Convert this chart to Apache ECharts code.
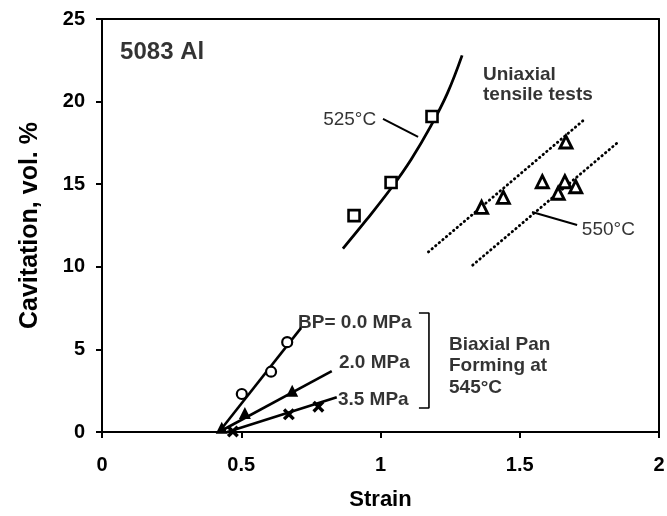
<!DOCTYPE html>
<html><head><meta charset="utf-8">
<script src="https://cdn.jsdelivr.net/npm/echarts@6/dist/echarts.min.js"></script>
<style>html,body{margin:0;padding:0;background:#fff}#c{width:667px;height:516px}</style>
</head><body><div id="c"></div>
<script>
// ---- data ----
const xTickLabels = ['0', '0.5', '1', '1.5', '2'];
const yTickLabels = ['0', '5', '10', '15', '20', '25'];

const curve525 = [[0.865, 11.1], [0.95, 12.85], [1.04, 14.8], [1.11, 16.5], [1.18, 18.5], [1.24, 20.5], [1.293, 22.8]];
const squares525 = [[0.905, 13.1], [1.038, 15.1], [1.185, 19.1]];

const triangles550 = [[1.363, 13.6], [1.441, 14.2], [1.581, 15.15], [1.638, 14.45], [1.662, 15.15], [1.701, 14.85], [1.666, 17.55]];
const dotted550Upper = [[1.172, 10.9], [1.738, 19.0]];
const dotted550Lower = [[1.331, 10.1], [1.850, 17.5]];

const bp00Line = [[0.42, 0], [0.715, 6.3]];
const bp00Points = [[0.502, 2.3], [0.607, 3.65], [0.665, 5.44]];
const bp20Line = [[0.42, 0], [0.825, 3.69]];
const bp20Points = [[0.43, 0.25], [0.513, 1.15], [0.683, 2.5]];
const bp35Line = [[0.45, 0], [0.843, 2.1]];
const bp35Points = [[0.47, 0.03], [0.671, 1.07], [0.777, 1.53]];

// annotations (data coordinates)
const leader525 = [[1.009, 18.95], [1.135, 17.86]];
const leader550 = [[1.706, 12.53], [1.544, 13.32]];
const bracketBP = [[1.138, 7.2], [1.174, 7.2], [1.174, 1.45], [1.138, 1.45]];
const noteTexts = ['5083 Al', '525°C', 'Uniaxial\ntensile tests', '550°C', 'BP= 0.0 MPa', '2.0 MPa', '3.5 MPa', 'Biaxial Pan\nForming at\n545°C'];
const noteAnchors = [[0.065, 23.0], [0.794, 18.89], [1.368, 21.0], [1.723, 12.23], [0.704, 6.6], [0.851, 4.18], [0.847, 1.94], [1.246, 4.0]];

// ---- styles ----
const FONT = 'Liberation Sans';
const BLACK = '#000';
const noteStyles = [
  {fontSize: 24, fontWeight: 'bold'},
  {fontSize: 19, fontWeight: 'normal'},
  {fontSize: 19, fontWeight: 'bold', lineHeight: 20},
  {fontSize: 19, fontWeight: 'normal'},
  {fontSize: 19, fontWeight: 'bold'},
  {fontSize: 19, fontWeight: 'bold'},
  {fontSize: 19, fontWeight: 'bold'},
  {fontSize: 19, fontWeight: 'bold', lineHeight: 21.5}
];

function lineSeries(data, extra) {
  return Object.assign({
    type: 'line', data: data, symbol: 'none', silent: true, z: 2,
    lineStyle: {color: BLACK, width: 2.6}
  }, extra || {});
}
function scatterSeries(data, symbol, size, filled, bw) {
  return {
    type: 'scatter', data: data, symbol: symbol, symbolSize: size, silent: true, z: 4,
    itemStyle: filled ? {color: BLACK, opacity: 1} : {color: '#fff', borderColor: BLACK, borderWidth: bw || 2, opacity: 1}
  };
}

const axisLineStyle = {color: BLACK, width: 2};
const xLabelFmt = v => xTickLabels[Math.round(v / 0.5)];
const yLabelFmt = v => yTickLabels[Math.round(v / 5)];

const chart = echarts.init(document.getElementById('c'), null, {renderer: 'canvas'});
const option = {
  animation: false,
  backgroundColor: '#fff',
  textStyle: {color: BLACK, fontFamily: FONT},
  grid: {left: 102, right: 8, top: 19, bottom: 84, outerBoundsMode: 'none', containLabel: false},
  xAxis: [
    {
      type: 'value', min: 0, max: 2, interval: 0.5, position: 'bottom',
      axisLine: {show: true, onZero: false, lineStyle: axisLineStyle},
      axisTick: {show: true, inside: false, length: 6, lineStyle: {color: BLACK, width: 2}},
      axisLabel: {margin: 23, fontSize: 20, fontWeight: 'bold', color: BLACK, fontFamily: FONT, formatter: xLabelFmt},
      splitLine: {show: false},
      name: 'Strain', nameLocation: 'middle', nameGap: 57,
      nameTextStyle: {fontSize: 22, fontWeight: 'bold', color: BLACK, fontFamily: FONT}
    },
    {
      type: 'value', min: 0, max: 2, interval: 0.5, position: 'top',
      axisLine: {show: true, onZero: false, lineStyle: axisLineStyle},
      axisTick: {show: false}, axisLabel: {show: false}, splitLine: {show: false}
    }
  ],
  yAxis: [
    {
      type: 'value', min: 0, max: 25, interval: 5, position: 'left',
      axisLine: {show: true, onZero: false, lineStyle: axisLineStyle},
      axisTick: {show: true, inside: false, length: 6, lineStyle: {color: BLACK, width: 2}},
      axisLabel: {margin: 17, fontSize: 20, fontWeight: 'bold', color: BLACK, fontFamily: FONT, formatter: yLabelFmt},
      splitLine: {show: false},
      name: 'Cavitation, vol. %', nameLocation: 'middle', nameGap: 59, nameRotate: 90,
      nameTextStyle: {fontSize: 25, fontWeight: 'bold', color: BLACK, fontFamily: FONT}
    },
    {
      type: 'value', min: 0, max: 25, interval: 5, position: 'right',
      axisLine: {show: true, onZero: false, lineStyle: axisLineStyle},
      axisTick: {show: false}, axisLabel: {show: false}, splitLine: {show: false}
    }
  ],
  series: [
    lineSeries(curve525, {smooth: 0.4, lineStyle: {color: BLACK, width: 2.8}}),
    scatterSeries(squares525, 'rect', 11, false, 2.6),
    lineSeries(dotted550Upper, {lineStyle: {color: BLACK, width: 2.8, type: [0.5, 4.2], cap: 'round'}}),
    lineSeries(dotted550Lower, {lineStyle: {color: BLACK, width: 2.8, type: [0.5, 4.2], cap: 'round'}}),
    scatterSeries(triangles550, 'triangle', 12, false, 2.9),
    lineSeries(bp00Line),
    scatterSeries(bp00Points, 'circle', 10, false, 2.2),
    lineSeries(bp20Line),
    scatterSeries(bp20Points, 'triangle', 12, true),
    lineSeries(bp35Line),
    scatterSeries(bp35Points, 'path://M0,2 L2,0 L5,3 L8,0 L10,2 L7,5 L10,8 L8,10 L5,7 L2,10 L0,8 L3,5 Z', 12, true),
    lineSeries(leader525, {lineStyle: {color: BLACK, width: 2}}),
    lineSeries(leader550, {lineStyle: {color: BLACK, width: 2}}),
    lineSeries(bracketBP, {lineStyle: {color: BLACK, width: 1.6}}),
    {
      type: 'scatter', silent: true, z: 10, symbolSize: 0,
      itemStyle: {color: 'transparent'},
      data: noteTexts.map((t, i) => ({
        value: noteAnchors[i],
        label: Object.assign({
          show: true, formatter: t, position: [0, 0], align: 'left', verticalAlign: 'middle',
          color: BLACK, fontFamily: FONT
        }, noteStyles[i])
      })),
      labelLayout: {hideOverlap: false}
    }
  ]
};
chart.setOption(option);
</script>
</body></html>
